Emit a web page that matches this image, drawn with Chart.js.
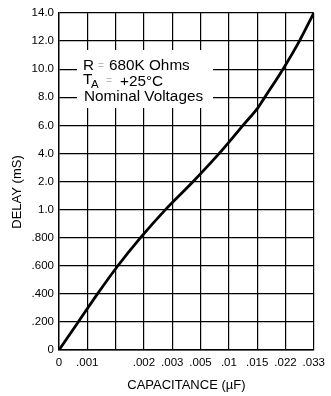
<!DOCTYPE html>
<html>
<head>
<meta charset="utf-8">
<script src="https://cdn.jsdelivr.net/npm/chart.js@4/dist/chart.umd.min.js"></script>
<style>
  html, body { margin: 0; padding: 0; background: #fff; }
  #wrap { width: 331px; height: 396px; }
</style>
</head>
<body>
<div id="wrap"><canvas id="c" width="331" height="396"></canvas></div>
<script>
// Tick values (grid lines are evenly spaced in the original, so the axes are piecewise)
const xTickValues = [0, 0.001, 0.0015, 0.002, 0.003, 0.005, 0.01, 0.015, 0.022, 0.033];
const xTickLabels = ['0', '.001', '', '.002', '.003', '.005', '.01', '.015', '.022', '.033'];
const yTickValues = [0, 0.2, 0.4, 0.6, 0.8, 1.0, 2.0, 4.0, 6.0, 8.0, 10.0, 12.0, 14.0];
const yTickLabels = ['0', '.200', '.400', '.600', '.800', '1.0', '2.0', '4.0', '6.0', '8.0', '10.0', '12.0', '14.0'];

// Curve: capacitance (µF) vs delay (mS)
const capacitance = [0, 0.00068, 0.00118, 0.00154, 0.00194, 0.00276, 0.00448, 0.0083, 0.0125, 0.01535, 0.01689, 0.02137, 0.02739, 0.033];
const delay       = [0, 0.2,     0.4,     0.6,     0.8,     1.0,     2.0,     4.0,    6.0,    7.32,    8.0,     10.0,    12.0,    14.0];

const annotationLines = ['R', '680K Ohms', 'T', 'A', '+25°C', 'Nominal Voltages'];

// Map a value onto the evenly-spaced grid index of a piecewise axis
function toIndex(v, ticks) {
  for (let i = 0; i < ticks.length - 1; i++) {
    if (v <= ticks[i + 1]) {
      return i + (v - ticks[i]) / (ticks[i + 1] - ticks[i]);
    }
  }
  return ticks.length - 1;
}

const points = capacitance.map((c, i) => ({ x: toIndex(c, xTickValues), y: toIndex(delay[i], yTickValues) }));

const FONT = '"Liberation Sans", Arial, Helvetica, sans-serif';

const overlay = {
  id: 'overlay',
  beforeDatasetsDraw(chart) {
    const ctx = chart.ctx;
    ctx.save();
    ctx.fillStyle = '#fff';
    ctx.fillRect(77, 50, 136, 58);
    ctx.fillStyle = '#000';
    ctx.textBaseline = 'middle';
    ctx.textAlign = 'left';
    ctx.font = '15.3px ' + FONT;
    ctx.fillText(annotationLines[0], 83, 66);
    ctx.fillText(annotationLines[1], 109, 66);
    ctx.fillText(annotationLines[2], 83, 80);
    ctx.fillText(annotationLines[4], 120, 81.5);
    ctx.fillText(annotationLines[5], 84, 97);
    ctx.font = '11.5px ' + FONT;
    ctx.fillText(annotationLines[3], 91, 85);
    ctx.fillStyle = '#bbb';
    ctx.font = '10px ' + FONT;
    ctx.fillText('=', 98, 66);
    ctx.fillText('=', 106, 81);
    ctx.restore();
  },
  afterDraw(chart) {
    const ctx = chart.ctx;
    ctx.save();
    ctx.fillStyle = '#000';
    ctx.font = '13px ' + FONT;
    ctx.textAlign = 'center';
    ctx.textBaseline = 'middle';
    ctx.translate(17, 192);
    ctx.rotate(-Math.PI / 2);
    ctx.fillText('DELAY (mS)', 0, 0);
    ctx.restore();
  }
};

new Chart(document.getElementById('c'), {
  type: 'scatter',
  data: {
    datasets: [{
      data: points,
      showLine: true,
      borderColor: '#000',
      borderWidth: 2.8,
      pointRadius: 0,
      cubicInterpolationMode: 'monotone',
      fill: false
    }]
  },
  options: {
    responsive: false,
    animation: false,
    events: [],
    layout: { padding: { top: 13, right: 15, left: 0, bottom: 0 } },
    plugins: { legend: { display: false }, tooltip: { enabled: false } },
    scales: {
      x: {
        type: 'linear', min: 0, max: 9,
        afterFit(s) { s.height = 46; },
        afterBuildTicks(s) { s.ticks = xTickValues.map((v, i) => ({ value: i })); },
        ticks: {
          color: '#000', padding: 6, maxRotation: 0, autoSkip: false,
          font: { family: FONT, size: 11.5 },
          callback: (v) => xTickLabels[Math.round(v)]
        },
        grid: { color: '#000', lineWidth: 1.2, drawTicks: false },
        border: { color: '#000', width: 1.4 },
        title: {
          display: true, text: 'CAPACITANCE (µF)', color: '#000',
          font: { family: FONT, size: 13 }, padding: { top: 0, bottom: 3 }
        }
      },
      y: {
        type: 'linear', min: 0, max: 12,
        afterFit(s) { s.width = 59; },
        afterBuildTicks(s) { s.ticks = yTickValues.map((v, i) => ({ value: i })); },
        ticks: {
          color: '#000', padding: 5, autoSkip: false,
          font: { family: FONT, size: 11.5 },
          callback: (v) => yTickLabels[Math.round(v)]
        },
        grid: { color: '#000', lineWidth: 1.2, drawTicks: false },
        border: { color: '#000', width: 1.4 }
      }
    }
  },
  plugins: [overlay]
});
</script>
</body>
</html>
